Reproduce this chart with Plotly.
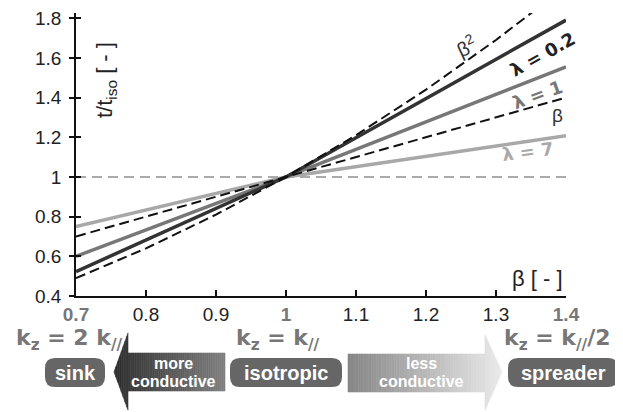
import plotly.graph_objects as go

# ---------------- data ----------------
beta_pts = [0.7, 1.0, 1.4]
lam02 = [0.523, 1.0, 1.79]
lam1 = [0.60, 1.0, 1.555]
lam7 = [0.75, 1.0, 1.208]
beta_lin = [0.70, 1.0, 1.40]
beta_sq_x = [0.7, 0.8, 0.9, 1.0, 1.1, 1.2, 1.3, 1.4]
beta_sq = [0.49, 0.64, 0.81, 1.0, 1.21, 1.44, 1.69, 1.96]
iso_x = [0.7, 1.4]
iso_y = [1.0, 1.0]

x_ticks = [0.7, 0.8, 0.9, 1.0, 1.1, 1.2, 1.3, 1.4]
x_ticktext = ["<b><span style='color:#777'>0.7</span></b>", "0.8", "0.9",
              "<b><span style='color:#777'>1</span></b>", "1.1", "1.2", "1.3",
              "<b><span style='color:#777'>1.4</span></b>"]
y_ticks = [0.4, 0.6, 0.8, 1.0, 1.2, 1.4, 1.6, 1.8]
y_ticktext = ["0.4", "0.6", "0.8", "1", "1.2", "1.4", "1.6", "1.8"]

# ---------------- layout geometry (page pixels; page body has 8px margin) ----------------
OFF = 8
W, H = 623 - OFF, 412 - OFF
PL, PR, PT, PB = 76, 566, 13, 296          # plot area in page pixels
L, R, T, B = PL - OFF, 623 - PR, PT - OFF, 412 - PB
PW, PH = PR - PL, PB - PT
FONT = "Liberation Sans, Arial, sans-serif"
HEAVY = "DejaVu Sans, Verdana, sans-serif"


def px(x):
    return (x - PL) / PW


def py(y):
    return (PB - y) / PH


fig = go.Figure()

fig.add_trace(go.Scatter(x=iso_x, y=iso_y, mode="lines",
                         line=dict(color="#aaaaaa", width=2, dash="10px,6px"), hoverinfo="skip"))
fig.add_trace(go.Scatter(x=beta_pts, y=lam7, mode="lines",
                         line=dict(color="#a8a8a8", width=3.5), name="λ = 7"))
fig.add_trace(go.Scatter(x=beta_pts, y=lam1, mode="lines",
                         line=dict(color="#777777", width=3.5), name="λ = 1"))
fig.add_trace(go.Scatter(x=beta_pts, y=lam02, mode="lines",
                         line=dict(color="#333333", width=3.5), name="λ = 0.2"))
fig.add_trace(go.Scatter(x=beta_pts, y=beta_lin, mode="lines",
                         line=dict(color="#111111", width=2, dash="10px,5px"), name="β"))
fig.add_trace(go.Scatter(x=beta_sq_x, y=beta_sq, mode="lines",
                         line=dict(color="#111111", width=2, dash="10px,5px"), name="β²"))
fig.add_trace(go.Scatter(x=[0.7], y=[0.4], yaxis="y2", mode="markers",
                         marker=dict(opacity=0), hoverinfo="skip"))

fig.update_layout(
    width=W, height=H,
    margin=dict(l=L, r=R, t=T, b=B, autoexpand=False),
    paper_bgcolor="white", plot_bgcolor="white",
    showlegend=False,
    font=dict(family=FONT, size=19, color="#222"),
    xaxis=dict(range=[0.7, 1.4], tickvals=x_ticks, ticktext=x_ticktext,
               showgrid=False, zeroline=False, showline=True, linecolor="#111", linewidth=1.5,
               ticks="inside", ticklen=6, tickcolor="#111", tickwidth=1.5,
               ticklabelstandoff=0, ticklabeloverflow="allow",
               tickfont=dict(size=19, color="#222", family=FONT)),
    yaxis=dict(range=[0.4, 1.826], tickvals=y_ticks, ticktext=y_ticktext,
               showgrid=False, zeroline=False, showline=True, linecolor="#111", linewidth=1.5,
               ticks="outside", ticklen=5, tickcolor="#111", tickwidth=1.5,
               ticklabelstandoff=4, ticklabeloverflow="allow",
               tickfont=dict(size=19, color="#222", family=FONT)),
    yaxis2=dict(range=[0.4, 1.826], overlaying="y", side="left", tickvals=y_ticks,
                showticklabels=False, showgrid=False, zeroline=False, showline=False,
                ticks="inside", ticklen=5, tickcolor="#111", tickwidth=1.5),
)

ann = []


def A(x, y, text, size, color, angle=0, family=FONT):
    ann.append(dict(x=px(x), y=py(y), xref="paper", yref="paper", text=text,
                    textangle=angle, showarrow=False, xanchor="center", yanchor="middle",
                    font=dict(size=size, color=color, family=family)))


# axis titles
A(106, 80, "t/t<sub>iso</sub> [ - ]", 22, "#222", -90)
A(537, 278, "β&nbsp;[ - ]", 22, "#222")
# line labels
A(466, 45, "β<sup>2</sup>", 20, "#333", -25)
A(542, 54, "<b>λ = 0.2</b>", 18, "#222", -29, HEAVY)
A(538, 95, "<b>λ = 1</b>", 18, "#777", -20, HEAVY)
A(557, 115, "β", 19, "#333")
A(528, 151, "<b>λ = 7</b>", 18, "#aaa", -7, HEAVY)
# kz labels
A(69, 339, "<b>k<sub>z</sub> = 2 k<sub>//</sub></b>", 22, "#777", 0, HEAVY)
A(278, 339, "<b>k<sub>z</sub> = k<sub>//</sub></b>", 22, "#777", 0, HEAVY)
A(557, 339, "<b>k<sub>z</sub> = k<sub>//</sub>/2</b>", 22, "#777", 0, HEAVY)

shapes = []


def rbox(x0, x1, y0, y1, r):
    return (f"M {px(x0 + r)},{py(y0)} L {px(x1 - r)},{py(y0)} "
            f"Q {px(x1)},{py(y0)} {px(x1)},{py(y0 + r)} L {px(x1)},{py(y1 - r)} "
            f"Q {px(x1)},{py(y1)} {px(x1 - r)},{py(y1)} L {px(x0 + r)},{py(y1)} "
            f"Q {px(x0)},{py(y1)} {px(x0)},{py(y1 - r)} L {px(x0)},{py(y0 + r)} "
            f"Q {px(x0)},{py(y0)} {px(x0 + r)},{py(y0)} Z")


for x0, x1, label in [(45, 105, "sink"), (230, 342, "isotropic"), (508, 618, "spreader")]:
    shapes.append(dict(type="path", xref="paper", yref="paper", path=rbox(x0, x1, 358, 387, 10),
                       fillcolor="#666666", line=dict(width=0), layer="above"))
    A((x0 + x1) / 2, 372.5, "<b>" + label + "</b>", 20, "white")


def lerp_color(c0, c1, t):
    a = [int(c0[i:i + 2], 16) for i in (1, 3, 5)]
    b = [int(c1[i:i + 2], 16) for i in (1, 3, 5)]
    return "#" + "".join(f"{round(a[k] + (b[k] - a[k]) * t):02x}" for k in range(3))


def arrow_strips(tip_x, head_x, body_end_x, yb0, yb1, yh0, yh1, ytip, c_left, c_right, n=60):
    xmin = min(tip_x, body_end_x)
    xmax = max(tip_x, body_end_x)
    lo_h, hi_h = min(tip_x, head_x), max(tip_x, head_x)

    def yext(x):
        if lo_h <= x <= hi_h:
            t = abs(x - tip_x) / abs(head_x - tip_x)
            return ytip + (yh0 - ytip) * t, ytip + (yh1 - ytip) * t
        return yb0, yb1

    out = []
    step = (xmax - xmin) / n
    breaks = sorted(set([xmin + i * step for i in range(n + 1)] + [head_x]))
    for i in range(len(breaks) - 1):
        a, b = breaks[i], breaks[i + 1]
        if b - a < 1e-6:
            continue
        mid = (a + b) / 2
        ta0, ta1 = yext(a + 1e-6)
        tb0, tb1 = yext(b - 1e-6)
        col = lerp_color(c_left, c_right, (mid - xmin) / (xmax - xmin))
        path = (f"M {px(a)},{py(ta0)} L {px(b)},{py(tb0)} L {px(b)},{py(tb1)} "
                f"L {px(a)},{py(ta1)} Z")
        out.append(dict(type="path", xref="paper", yref="paper", path=path,
                        fillcolor=col, line=dict(color=col, width=0.6), layer="above"))
    return out


shapes += arrow_strips(tip_x=114, head_x=128, body_end_x=225, yb0=353, yb1=391,
                       yh0=333, yh1=410, ytip=372, c_left="#2e2e2e", c_right="#808080")
shapes += arrow_strips(tip_x=502, head_x=485, body_end_x=348, yb0=354, yb1=392,
                       yh0=335, yh1=410, ytip=372, c_left="#858585", c_right="#eaeaea")

A(173, 363, "<b>more</b>", 16, "white")
A(173, 381, "<b>conductive</b>", 16, "white")
A(421, 363, "<b>less</b>", 16, "white")
A(421, 381, "<b>conductive</b>", 16, "white")

fig.update_layout(annotations=ann, shapes=shapes)
fig.write_html("out.html")
